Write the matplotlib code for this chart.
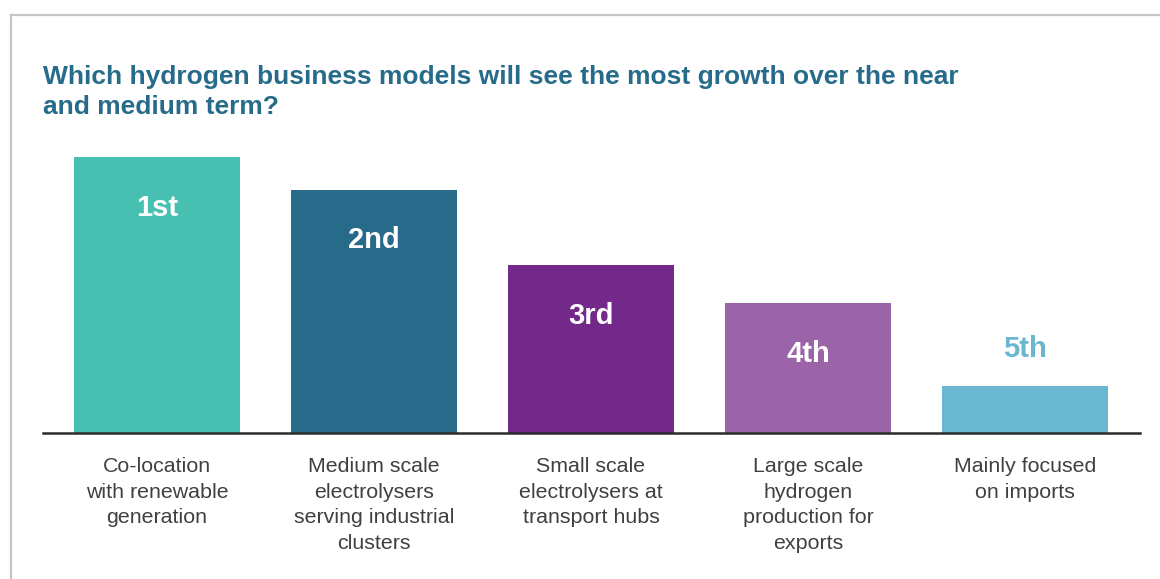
import matplotlib
matplotlib.use("Agg")
import matplotlib.pyplot as plt
from matplotlib.lines import Line2D

plt.rcParams['font.family'] = ['Liberation Sans', 'DejaVu Sans']

title = "Which hydrogen business models will see the most growth over the near\nand medium term?"
categories = [
    "Co-location\nwith renewable\ngeneration",
    "Medium scale\nelectrolysers\nserving industrial\nclusters",
    "Small scale\nelectrolysers at\ntransport hubs",
    "Large scale\nhydrogen\nproduction for\nexports",
    "Mainly focused\non imports",
]
ranks = ["1st", "2nd", "3rd", "4th", "5th"]
scores = [276, 243, 168, 130, 47]
bar_colors = ["#48C0B1", "#276A8A", "#722989", "#9C64A8", "#69B7D0"]

W, H = 1160, 579
fig = plt.figure(figsize=(W / 100, H / 100), dpi=100)

# outer frame (top and left edge visible)
fig.add_artist(Line2D([10.5 / W, 1.0], [1 - 14.5 / H, 1 - 14.5 / H], color="#c6c6ca", lw=1.6, transform=fig.transFigure))
fig.add_artist(Line2D([10.5 / W, 10.5 / W], [0, 1 - 14.5 / H], color="#c6c6ca", lw=1.6, transform=fig.transFigure))

ax_left, ax_right = 43, 1140
ax_base, ax_top = 433, 150
ax = fig.add_axes([ax_left / W, (H - ax_base) / H, (ax_right - ax_left) / W, (ax_base - ax_top) / H])

x = list(range(len(categories)))
ax.bar(x, scores, width=0.765, color=bar_colors, zorder=2)
ax.set_xlim(-0.525, 4.53)
ax.set_ylim(0, ax_base - ax_top)

for s in ["top", "right", "left"]:
    ax.spines[s].set_visible(False)
ax.spines["bottom"].set_color("#2b2b2b")
ax.spines["bottom"].set_linewidth(1.8)
ax.set_yticks([])
ax.set_xticks(x)
ax.set_xticklabels(categories, fontsize=15.4, color="#404040", linespacing=1.46)
ax.tick_params(axis="x", length=0, pad=17)

threshold = 100
for xi, v, r, c in zip(x, scores, ranks, bar_colors):
    if v > threshold:
        ax.annotate(r, (xi, v), xytext=(0, -50.5 * 0.72), textcoords="offset points",
                    ha="center", va="center", fontsize=21, fontweight="bold", color="white")
    else:
        ax.annotate(r, (xi, v), xytext=(0, 37 * 0.72), textcoords="offset points",
                    ha="center", va="center", fontsize=21, fontweight="bold", color=c)

fig.text(43 / W, 1 - 65 / H, title, ha="left", va="top", fontsize=19, fontweight="bold",
         color="#266B8A", linespacing=1.31)

fig.savefig("out.png", dpi=100, facecolor="white")
